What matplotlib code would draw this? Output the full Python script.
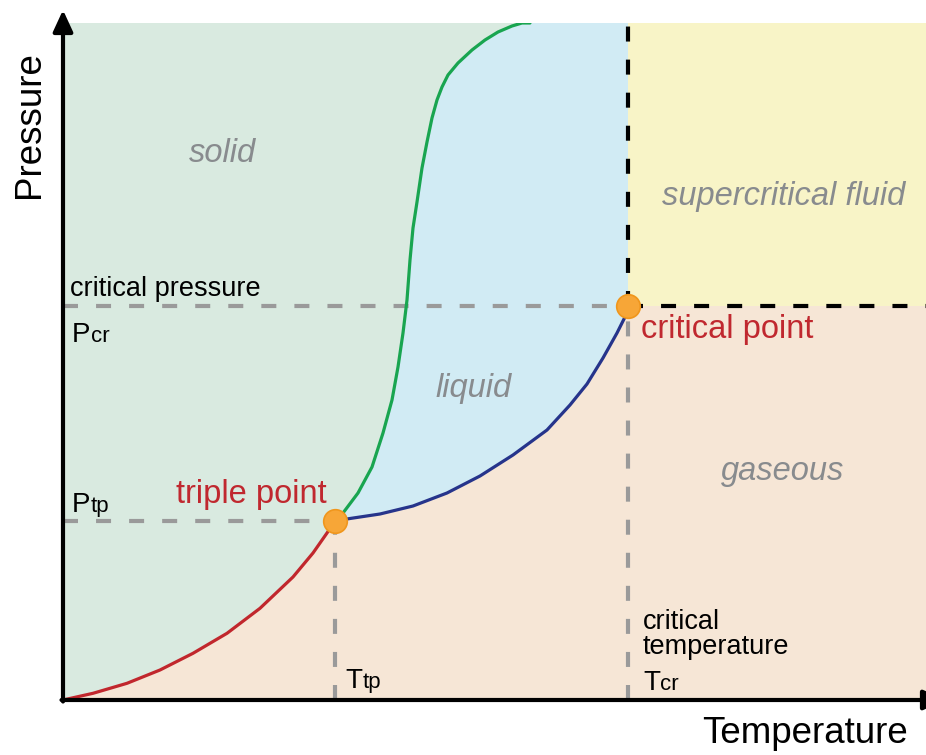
import matplotlib

matplotlib.use("Agg")
import matplotlib.pyplot as plt

plt.rcParams["font.family"] = ["Liberation Sans", "DejaVu Sans"]
plt.rcParams["lines.scale_dashes"] = False

# phase boundaries (arbitrary T / P units)
subl_T = [0.0, 3.0, 6.4, 9.7, 13.0, 16.4, 19.7, 23.0, 25.0, 26.4, 27.2]
subl_P = [0.0, 0.67, 1.67, 3.0, 4.67, 6.67, 9.17, 12.3, 14.7, 16.7, 17.9]

melt_T = [27.2, 28.0, 29.5, 30.9, 32.0, 32.9, 33.5, 34.0, 34.4, 34.7, 35.0,
          35.4, 35.9, 36.4, 36.9, 37.4, 37.9, 38.5, 39.5, 40.9, 42.2, 43.5,
          44.9, 45.9, 46.7]
melt_P = [17.9, 18.7, 20.7, 23.3, 26.7, 30.0, 33.3, 36.7, 40.0, 44.0, 47.2,
          49.8, 53.2, 55.8, 58.2, 60.0, 61.3, 62.5, 63.7, 65.0, 66.0, 66.8,
          67.4, 67.7, 67.7]

vap_T = [27.2, 28.7, 31.7, 35.0, 38.4, 41.7, 45.0, 48.4, 50.7, 52.4, 54.0,
         55.4, 56.2, 56.5]
vap_P = [17.9, 18.15, 18.6, 19.4, 20.7, 22.4, 24.5, 27.0, 29.5, 31.6, 34.2,
         36.7, 38.3, 39.4]

T_tp, P_tp = 27.2, 17.9
T_cr, P_cr = 56.5, 39.4
T_max, P_max = 86.3, 67.7

C_SOLID = "#d9eae0"
C_LIQUID = "#d1ebf4"
C_SUPER = "#f8f4c7"
C_GAS = "#f6e6d6"
C_RED = "#c0282f"
C_GREY_TXT = "#888b8e"
C_DASH = "#9a9a9a"

fig = plt.figure(figsize=(9.26, 7.55), dpi=100)
ax = fig.add_axes([63 / 926, 55 / 755, 863 / 926, 677 / 755])
ax.set_xlim(0, T_max)
ax.set_ylim(0, P_max)
ax.set_facecolor(C_GAS)
for s in ax.spines.values():
    s.set_visible(False)
ax.set_xticks([])
ax.set_yticks([])

# regions
solid_x = [0, 0] + melt_T[::-1] + subl_T[::-1]
solid_y = [0, P_max] + melt_P[::-1] + subl_P[::-1]
ax.fill(solid_x, solid_y, color=C_SOLID, lw=0, zorder=1)
liq_x = melt_T + [T_cr, T_cr] + vap_T[::-1]
liq_y = melt_P + [P_max, P_cr] + vap_P[::-1]
ax.fill(liq_x, liq_y, color=C_LIQUID, lw=0, zorder=1)
ax.fill([T_cr, T_max, T_max, T_cr], [P_cr, P_cr, P_max, P_max],
        color=C_SUPER, lw=0, zorder=1)

# guide lines
dash = dict(lw=3, dashes=(10.8, 13), zorder=2, solid_capstyle="butt")
ax.plot([0, T_cr], [P_cr, P_cr], color=C_DASH, **dash)
ax.plot([0, T_tp], [P_tp, P_tp], color=C_DASH, **dash)
ax.plot([T_tp, T_tp], [0, P_tp], color=C_DASH, **dash)
ax.plot([T_cr, T_cr], [0, P_cr], color=C_DASH, **dash)
ax.plot([T_cr, T_cr], [P_cr, P_max], color="black", **dash)
ax.plot([T_cr, T_max], [P_cr, P_cr], color="black", **dash)

# boundaries
curve = dict(lw=2.3, zorder=3, solid_joinstyle="round", solid_capstyle="round")
ax.plot(subl_T, subl_P, color="#c1272d", **curve)
ax.plot(melt_T, melt_P, color="#19a550", **curve)
ax.plot(vap_T, vap_P, color="#26348b", **curve)

ax.plot([T_tp, T_cr], [P_tp, P_cr], ls="none", marker="o", ms=17,
        mfc="#f7a637", mec="#f0961c", mew=1.2, zorder=4, clip_on=False)

# region labels
lab = dict(fontsize=23.5, style="italic", color=C_GREY_TXT, ha="center",
           va="baseline", zorder=5)
ax.text(15.9, 53.8, "solid", **lab)
ax.text(41.1, 30.3, "liquid", **lab)
ax.text(72.0, 22.0, "gaseous", **lab)
ax.text(72.1, 49.5, "supercritical fluid", **lab)

ax.text(26.4, 19.7, "triple point", fontsize=23.5, color=C_RED, ha="right",
        va="baseline", zorder=5)
ax.text(57.8, 36.2, "critical point", fontsize=23.5, color=C_RED, ha="left",
        va="baseline", zorder=5)

ax.text(0.7, 40.4, "critical pressure", fontsize=19.5, ha="left", va="baseline", zorder=5)
# multi-line text: baseline alignment goes to the last line
ax.text(58.0, 4.6, "critical\ntemperature", fontsize=19.5, ha="left", va="baseline",
        linespacing=0.95, zorder=5)


def sym(x, y, main, sub, w):
    ax.text(x, y, main, fontsize=20, ha="left", va="baseline", zorder=5)
    ax.annotate(sub, (x, y), xytext=(w, 0), textcoords="offset points",
                fontsize=16, ha="left", va="baseline", zorder=5)


sym(0.9, 35.8, "P", "cr", 13.6)
sym(0.9, 18.8, "P", "tp", 13.6)
sym(28.2, 1.2, "T", "tp", 12.4)
sym(58.0, 1.0, "T", "cr", 12.4)

# axes with arrow heads
arr = dict(arrowstyle="-|>,head_length=0.65,head_width=0.3", lw=3, color="black",
           shrinkA=0, shrinkB=0, mutation_scale=20)
ax.annotate("", xy=(0, 69.0), xytext=(0, -0.15), arrowprops=arr, annotation_clip=False)
ax.annotate("", xy=(88.2, 0), xytext=(-0.15, 0), arrowprops=arr, annotation_clip=False)

fig.text(30 / 926, 1 - 125 / 755, "Pressure", fontsize=26.5, rotation=90,
         ha="center", va="center")
fig.text(805 / 926, 12 / 755, "Temperature", fontsize=26.5, ha="center", va="baseline")

fig.savefig("out.png", dpi=100)
